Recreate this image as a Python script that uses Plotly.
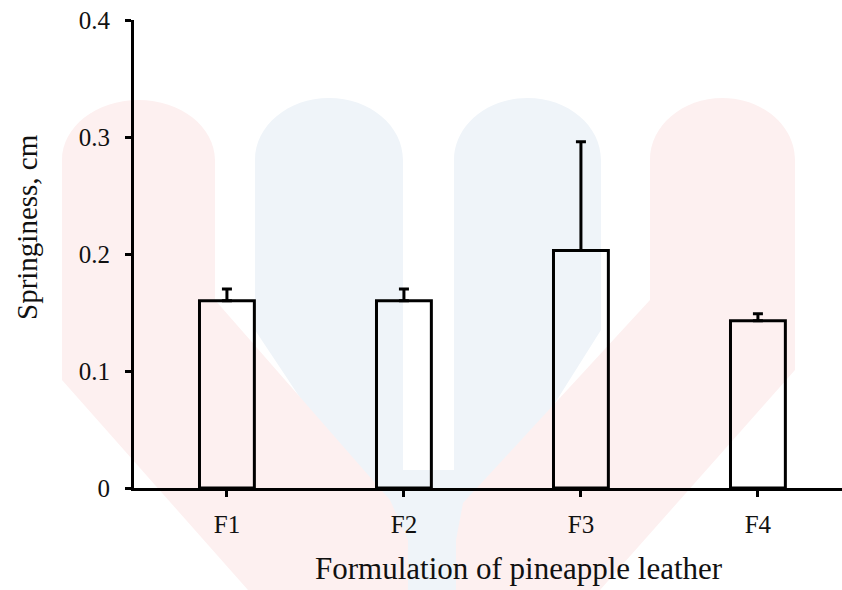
import plotly.graph_objects as go

categories = ["F1", "F2", "F3", "F4"]
springiness = [0.160, 0.160, 0.203, 0.143]
sd_upper = [0.010, 0.010, 0.093, 0.006]
y_tick_vals = [0, 0.1, 0.2, 0.3, 0.4]
y_tick_text = ["0", "0.1", "0.2", "0.3", "0.4"]

W, H = 842, 590
ML, MR, MT, MB = 134, 0, 20, 102
PW, PH = W - ML - MR, H - MT - MB


def px(x, y):
    return (x - ML) / PW, (H - MB - y) / PH


def path_from(points):
    parts = []
    for cmd, *pts in points:
        conv = []
        for (x, y) in pts:
            a, b = px(x, y)
            conv.append(f"{a:.4f},{b:.4f}")
        parts.append(cmd + " " + " ".join(conv))
    return " ".join(parts) + " Z"


def top_arc(x0, x1, ytop, yside):
    k = 0.5523
    cx = (x0 + x1) / 2
    rx = (x1 - x0) / 2
    ry = yside - ytop
    return [
        ("C", (x0, yside - k * ry), (cx - k * rx, ytop), (cx, ytop)),
        ("C", (cx + k * rx, ytop), (x1, yside - k * ry), (x1, yside)),
    ]


blue_c = "rgb(239,244,249)"
pink_c = "rgb(253,240,240)"

blue_path = [("M", (255, 160))] + top_arc(255, 403, 98, 160) + [
    ("L", (403, 470)), ("L", (454, 470)), ("L", (454, 160))
] + top_arc(454, 601, 98, 160) + [
    ("L", (601, 330)), ("L", (456, 560)), ("L", (456, 590)),
    ("L", (408, 590)), ("L", (408, 560)), ("L", (255, 330))
]

pink_left = [("M", (62, 160))] + top_arc(62, 215, 100, 160) + [
    ("L", (215, 300)), ("L", (390, 500)), ("L", (408, 540)),
    ("L", (408, 590)), ("L", (248, 590)), ("L", (62, 380))
]

pink_right = [("M", (650, 160))] + top_arc(650, 795, 98, 160) + [
    ("L", (795, 370)), ("L", (600, 590)), ("L", (456, 590)),
    ("L", (456, 540)), ("L", (463, 503)), ("L", (650, 300))
]

shapes = []
for p, c in [(blue_path, blue_c), (pink_left, pink_c), (pink_right, pink_c)]:
    shapes.append(dict(type="path", xref="paper", yref="paper",
                       path=path_from(p), fillcolor=c, line=dict(width=0),
                       layer="below"))

fig = go.Figure()
fig.add_trace(go.Bar(
    x=categories, y=springiness, width=0.31,
    marker=dict(color="rgba(0,0,0,0)", line=dict(color="black", width=3)),
    error_y=dict(type="data", symmetric=False, array=sd_upper,
                 arrayminus=[0] * len(sd_upper),
                 color="black", thickness=3, width=5),
    showlegend=False,
))

font_family = "Liberation Serif, Times New Roman, serif"

fig.update_layout(
    width=W, height=H,
    margin=dict(l=ML, r=MR, t=MT, b=MB),
    paper_bgcolor="white", plot_bgcolor="rgba(0,0,0,0)",
    font=dict(family=font_family, color="#111", size=25),
    shapes=shapes,
    xaxis=dict(range=[-0.525, 3.475], showline=True, linewidth=3,
               linecolor="black", ticks="outside", ticklen=6, tickwidth=3,
               tickcolor="black", showgrid=False, zeroline=False,
               tickfont=dict(size=25, family=font_family),
               ticklabelstandoff=6),
    yaxis=dict(range=[0, 0.4], showline=True, linewidth=3,
               linecolor="black", ticks="outside", ticklen=6, tickwidth=3,
               tickcolor="black", showgrid=False, zeroline=False,
               tickvals=y_tick_vals, ticktext=y_tick_text,
               tickfont=dict(size=25, family=font_family),
               ticklabelstandoff=10),
    annotations=[
        dict(text="Formulation of pineapple leather", xref="paper", yref="paper",
             x=px(519, 568)[0], y=px(519, 568)[1], xanchor="center",
             yanchor="middle", showarrow=False,
             font=dict(size=31, family=font_family, color="#111")),
        dict(text="Springiness, cm", xref="paper", yref="paper",
             x=px(27, 227)[0], y=px(27, 227)[1], xanchor="center",
             yanchor="middle", showarrow=False, textangle=-90,
             font=dict(size=29, family=font_family, color="#111")),
    ],
)

fig.write_html("out.html")
